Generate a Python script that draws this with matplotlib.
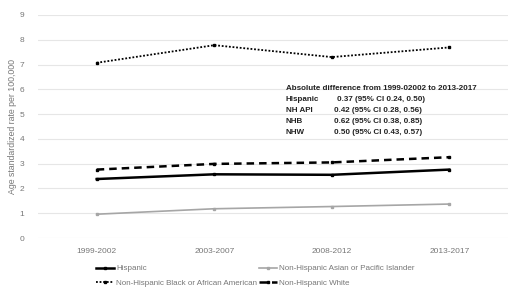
import matplotlib.pyplot as plt
import numpy as np

periods = ["1999-2002", "2003-2007", "2008-2012", "2013-2017"]
hispanic = [2.38, 2.57, 2.55, 2.76]
nh_api = [0.96, 1.18, 1.27, 1.37]
nh_black = [7.07, 7.78, 7.30, 7.69]
nh_white = [2.76, 2.99, 3.05, 3.26]

diff_groups = ["Hispanic", "NH API", "NHB", "NHW"]
diff_text = ["0.37 (95% CI 0.24, 0.50)", "0.42 (95% CI 0.28, 0.56)",
             "0.62 (95% CI 0.38, 0.85)", "0.50 (95% CI 0.43, 0.57)"]

plt.rcParams['font.family'] = ['Liberation Sans', 'DejaVu Sans']

fig = plt.figure(figsize=(5.2, 2.99), dpi=100)
ax = fig.add_axes([0.073, 0.204, 0.904, 0.746])

x = np.arange(len(periods))
h1, = ax.plot(x, hispanic, color="black", lw=1.8, marker="s", ms=1.8, label="Hispanic")
h2, = ax.plot(x, nh_api, color="#a6a6a6", lw=1.2, marker="s", ms=1.6,
              label="Non-Hispanic Asian or Pacific Islander")
h3, = ax.plot(x, nh_black, color="black", lw=1.3, ls=(0, (1, 1)), marker="s", ms=1.8,
              label="Non-Hispanic Black or African American")
h4, = ax.plot(x, nh_white, color="black", lw=1.8, ls=(0, (3, 2)), marker="s", ms=1.8,
              label="Non-Hispanic White")

ax.set_xlim(-0.5, 3.5)
ax.set_ylim(0, 9)
ax.set_yticks(range(10))
ax.set_xticks(x)
ax.set_xticklabels(periods)
ax.tick_params(colors="#777777", labelsize=6, length=0, pad=7)
ax.tick_params(axis="y", pad=10)
ax.grid(axis="y", color="#e6e6e6", lw=0.8)
ax.set_axisbelow(True)
for s in ax.spines.values():
    s.set_visible(False)
ax.set_ylabel("Age standardized rate per 100,000", color="#777777", fontsize=6.3, labelpad=2)

# annotation box
tx, ty = 0.527, 0.671
ax.text(tx, ty, "Absolute difference from 1999-02002 to 2013-2017", transform=ax.transAxes,
        fontsize=5.8, fontweight="bold", color="#222222", va="center")
for i, (g, t) in enumerate(zip(diff_groups, diff_text)):
    yy = ty - (i + 1) * 0.05
    ax.text(tx, yy, g, transform=ax.transAxes, fontsize=5.8, fontweight="bold", color="#222222", va="center")
    ax.text(tx + 0.103 + (0.006 if i == 0 else 0), yy, t, transform=ax.transAxes, fontsize=5.8,
            fontweight="bold", color="#222222", va="center")

leg = fig.legend([h1, h3, h2, h4], [h1.get_label(), h3.get_label(), h2.get_label(), h4.get_label()],
                 loc="upper left", bbox_to_anchor=(0.178, 0.125), ncol=2, frameon=False,
                 fontsize=5.8, handlelength=2.3, columnspacing=0.2, handletextpad=0.2,
                 labelspacing=0.8, borderaxespad=0)
for t in leg.get_texts():
    t.set_color("#777777")

fig.savefig("out.png", dpi=100)
